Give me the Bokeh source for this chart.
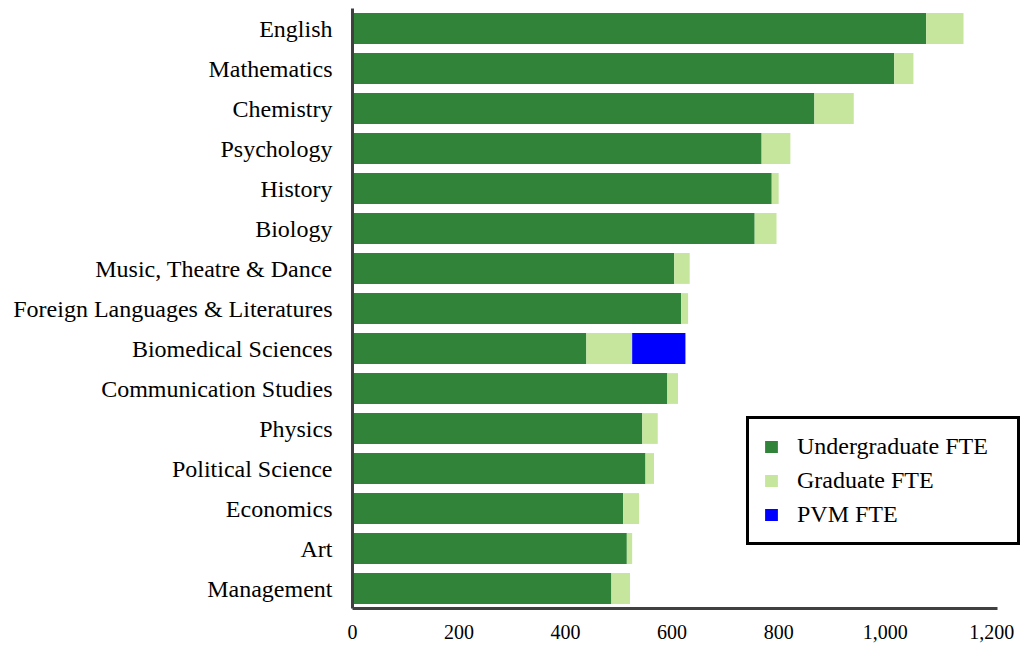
from bokeh.plotting import figure
from bokeh.models import ColumnDataSource, FactorRange, Range1d, Legend, LegendItem, NumeralTickFormatter, FixedTicker
from bokeh.embed import file_html
from bokeh.resources import INLINE

departments = ["English", "Mathematics", "Chemistry", "Psychology", "History", "Biology",
               "Music, Theatre & Dance", "Foreign Languages & Literatures", "Biomedical Sciences",
               "Communication Studies", "Physics", "Political Science", "Economics", "Art", "Management"]
undergrad = [1077, 1017, 867, 768, 787, 755, 604, 617, 439, 591, 544, 550, 508, 515, 486]
graduate = [70, 36, 74, 54, 13, 41, 29, 13, 86, 20, 29, 16, 30, 10, 35]
pvm = [0, 0, 0, 0, 0, 0, 0, 0, 100, 0, 0, 0, 0, 0, 0]
series = ["Undergraduate FTE", "Graduate FTE", "PVM FTE"]
x_ticks = [0, 200, 400, 600, 800, 1000, 1200]

colors = ["#31833A", "#C6E69E", "#0000FF"]
FONT = "Liberation Serif"

source = ColumnDataSource(dict(dept=departments, u=undergrad, g=graduate, p=pvm))

p = figure(y_range=FactorRange(factors=list(reversed(departments)), range_padding=0),
           x_range=Range1d(0, 1254),
           frame_width=668, frame_height=600,
           min_border_left=352, min_border_right=2, min_border_top=8, min_border_bottom=36,
           output_backend="svg", toolbar_location=None)

renderers = p.hbar_stack(["u", "g", "p"], y="dept", height=0.77, color=colors, line_color=None,
                         source=source)

p.xgrid.visible = False
p.ygrid.visible = False
p.outline_line_color = None

p.xaxis.ticker = FixedTicker(ticks=x_ticks)
p.xaxis.formatter = NumeralTickFormatter(format="0,0")
p.xaxis.bounds = (0, 1211)
for ax in (p.xaxis, p.yaxis):
    ax.axis_line_color = "#404040"
    ax.axis_line_width = 3
    ax.major_tick_line_color = None
    ax.minor_tick_line_color = None
    ax.major_label_text_font = FONT
    ax.major_label_text_color = "#000000"
p.xaxis.major_label_text_font_size = "20px"
p.xaxis.major_label_standoff = 10
p.yaxis.major_label_text_font_size = "24px"
p.yaxis.major_label_standoff = 14

legend = Legend(items=[LegendItem(label=s, renderers=[r]) for s, r in zip(series, renderers)],
                location=(394, 63), orientation="vertical",
                border_line_color="black", border_line_width=3, border_line_alpha=1,
                padding=14, spacing=7, margin=0,
                glyph_width=16, glyph_height=15, label_height=20, label_standoff=18,
                label_width=206,
                label_text_font=FONT, label_text_font_size="24px", label_text_color="#000000",
                background_fill_alpha=1)
p.add_layout(legend, "center")

open("out.html", "w").write(file_html(p, INLINE))
